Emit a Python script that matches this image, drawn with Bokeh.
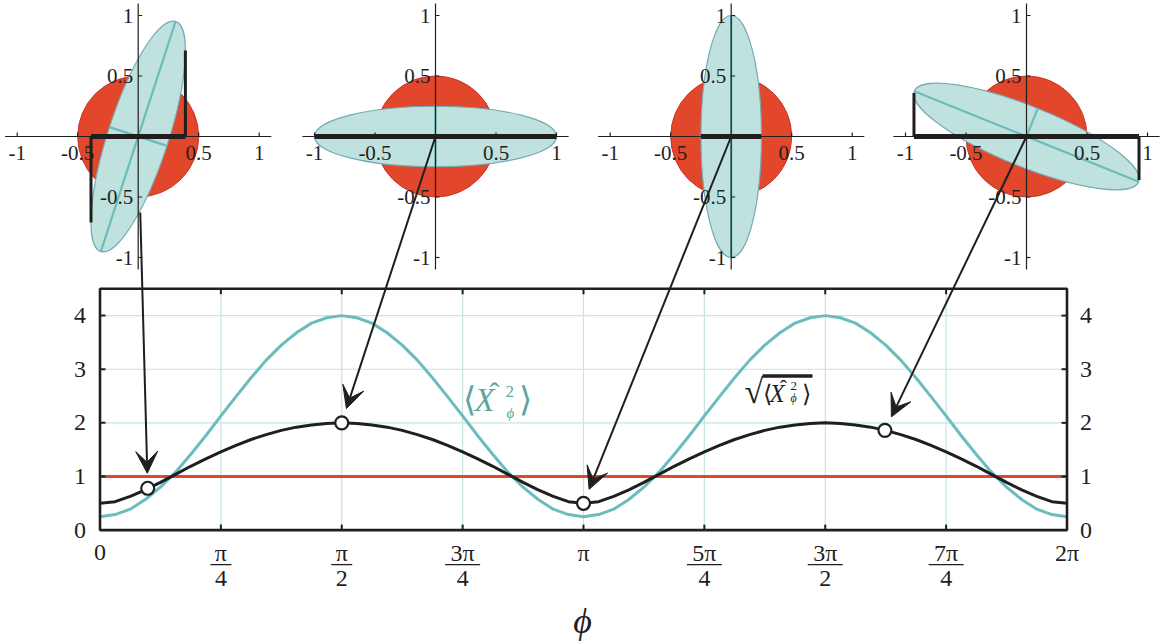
import numpy as np
from bokeh.plotting import figure
from bokeh.models import Range1d, Arrow, VeeHead
from bokeh.core.properties import value
from bokeh.embed import file_html
from bokeh.resources import INLINE

# ---------------- data ----------------
phi_deg = [0, 5.625, 11.25, 16.875, 22.5, 28.125, 33.75, 39.375, 45, 50.625, 56.25,
           61.875, 67.5, 73.125, 78.75, 84.375, 90, 95.625, 101.25, 106.875, 112.5,
           118.125, 123.75, 129.375, 135, 140.625, 146.25, 151.875, 157.5, 163.125,
           168.75, 174.375, 180, 185.625, 191.25, 196.875, 202.5, 208.125, 213.75,
           219.375, 225, 230.625, 236.25, 241.875, 247.5, 253.125, 258.75, 264.375,
           270, 275.625, 281.25, 286.875, 292.5, 298.125, 303.75, 309.375, 315,
           320.625, 326.25, 331.875, 337.5, 343.125, 348.75, 354.375, 360]

# quadrature variance <X_phi^2>
variance = [0.25, 0.29, 0.39, 0.57, 0.80, 1.08, 1.41, 1.76, 2.13, 2.49, 2.84, 3.17,
            3.45, 3.68, 3.86, 3.96, 4.00, 3.96, 3.86, 3.68, 3.45, 3.17, 2.84, 2.49,
            2.13, 1.76, 1.41, 1.08, 0.80, 0.57, 0.39, 0.29, 0.25, 0.29, 0.39, 0.57,
            0.80, 1.08, 1.41, 1.76, 2.13, 2.49, 2.84, 3.17, 3.45, 3.68, 3.86, 3.96,
            4.00, 3.96, 3.86, 3.68, 3.45, 3.17, 2.84, 2.49, 2.13, 1.76, 1.41, 1.08,
            0.80, 0.57, 0.39, 0.29, 0.25]

# its square root
std_dev = [0.50, 0.53, 0.63, 0.75, 0.89, 1.04, 1.19, 1.33, 1.46, 1.58, 1.69, 1.78,
           1.86, 1.92, 1.96, 1.99, 2.00, 1.99, 1.96, 1.92, 1.86, 1.78, 1.69, 1.58,
           1.46, 1.33, 1.19, 1.04, 0.89, 0.75, 0.63, 0.53, 0.50, 0.53, 0.63, 0.75,
           0.89, 1.04, 1.19, 1.33, 1.46, 1.58, 1.69, 1.78, 1.86, 1.92, 1.96, 1.99,
           2.00, 1.99, 1.96, 1.92, 1.86, 1.78, 1.69, 1.58, 1.46, 1.33, 1.19, 1.04,
           0.89, 0.75, 0.63, 0.53, 0.50]

vacuum_level = 1.0

# highlighted phases and the value of the square-root curve there
marker_phi = [0.31, np.pi / 2, np.pi, 5.10]
marker_val = [0.78, 2.00, 0.50, 1.86]

x_tick_vals = [0, np.pi / 4, np.pi / 2, 3 * np.pi / 4, np.pi,
               5 * np.pi / 4, 3 * np.pi / 2, 7 * np.pi / 4, 2 * np.pi]
x_tick_num = ["0", "π", "π", "3π", "π", "5π", "3π", "7π", "2π"]
x_tick_den = ["", "4", "2", "4", "", "4", "2", "4", ""]
y_tick_vals = [0, 1, 2, 3, 4]
y_tick_text = ["0", "1", "2", "3", "4"]

# phase-space pictures: vacuum disc, squeezed ellipse, projection bar
ellipse_angle_deg = [72, 0, 90, -22]
semi_major = 1.0
semi_minor = 0.25
minor_axis_from = [-0.25, -0.25, -0.25, 0.0]
vacuum_radius = 0.5
bar_half = [0.39, 1.00, 0.25, 0.93]
tangent_y = [0.71, 0.00, 0.00, -0.36]
inset_tick_vals = [-1, -0.5, 0.5, 1]
inset_tick_text = ["-1", "-0.5", "0.5", "1"]

# ---------------- layout (pixels) ----------------
W, H = 1162, 641
PL, PR, PT, PB = 99.5, 1066.5, 288.3, 529.6
X_MAX, Y_MAX = 2 * np.pi, 4.5
KX = (PR - PL) / X_MAX
KY = (PB - PT) / Y_MAX
INSET_CX = [137.7, 435.0, 730.7, 1026.0]
INSET_CY = 136.0
INSET_K = 121.0
INSET_LIM = 1.1
ARROW_HIDDEN = [76, 0, 0, 0]

INK = "#1f1f1f"
TEAL = "#6dbcbc"
TEAL_TXT = "#5aa6a3"
RED = "#e2462b"
RED_EDGE = "#c8362a"
GRID = "#c6e4e3"
ELL_FILL = "#bfe2de"
ELL_EDGE = "#78a9b6"
FONT = value("Liberation Serif")


def dx(px):
    return px / KX


def dy(px):
    return px / KY


def at(px, py):
    return (px - PL) / KX, (PB - py) / KY


def to_px(x, y):
    return PL + x * KX, PB - y * KY


p = figure(width=W, height=H,
           x_range=Range1d(-PL / KX, X_MAX + (W - PR) / KX),
           y_range=Range1d(-(H - PB) / KY, PB / KY),
           x_axis_location=None, y_axis_location=None,
           toolbar_location=None, min_border=0, output_backend="svg",
           outline_line_color=None, background_fill_color="white",
           border_fill_color="white")
p.grid.visible = False

phi = list(np.radians(phi_deg))

# ---- main panel: grid ----
gx = x_tick_vals[1:-1]
gy = y_tick_vals[1:]
p.segment(x0=gx, y0=[0] * len(gx), x1=gx, y1=[Y_MAX] * len(gx), line_color=GRID, line_width=1.2)
p.segment(x0=[0] * len(gy), y0=gy, x1=[X_MAX] * len(gy), y1=gy, line_color=GRID, line_width=1.2)

# ---- curves ----
p.line([phi[0], phi[-1]], [vacuum_level, vacuum_level], line_color=RED, line_width=3)
p.line(phi, variance, line_color=TEAL, line_width=3, line_join="round")
p.line(phi, std_dev, line_color=INK, line_width=3, line_join="round")

# ---- frame and ticks ----
t5x, t5y = dx(5.5), dy(5.5)
p.segment(x0=gx, y0=[0] * len(gx), x1=gx, y1=[t5y] * len(gx), line_color=INK, line_width=2)
p.segment(x0=gx, y0=[Y_MAX] * len(gx), x1=gx, y1=[Y_MAX - t5y] * len(gx), line_color=INK, line_width=2)
p.segment(x0=[0] * len(gy), y0=gy, x1=[t5x] * len(gy), y1=gy, line_color=INK, line_width=2)
p.segment(x0=[X_MAX] * len(gy), y0=gy, x1=[X_MAX - t5x] * len(gy), y1=gy, line_color=INK, line_width=2)
p.quad(left=[0], right=[X_MAX], bottom=[0], top=[Y_MAX], fill_color=None,
       line_color=INK, line_width=2.6)

p.scatter(marker_phi, marker_val, size=13, fill_color="white", line_color=INK, line_width=2.2)

# ---- tick labels ----
tick_style = dict(text_font=FONT, text_font_size="24px", text_color=INK)
p.text(x=[-dx(14)] * len(y_tick_vals), y=y_tick_vals, text=y_tick_text,
       text_align="right", text_baseline="middle", **tick_style)
p.text(x=[X_MAX + dx(13)] * len(y_tick_vals), y=y_tick_vals, text=y_tick_text,
       text_align="left", text_baseline="middle", **tick_style)

single = [i for i, d in enumerate(x_tick_den) if d == ""]
frac = [i for i, d in enumerate(x_tick_den) if d != ""]
p.text(x=[x_tick_vals[i] for i in single], y=[-dy(22.5)] * len(single),
       text=[x_tick_num[i] for i in single], text_align="center",
       text_baseline="middle", **tick_style)
p.text(x=[x_tick_vals[i] for i in frac], y=[-dy(22.5)] * len(frac),
       text=[x_tick_num[i] for i in frac], text_align="center",
       text_baseline="middle", **tick_style)
p.text(x=[x_tick_vals[i] for i in frac], y=[-dy(48)] * len(frac),
       text=[x_tick_den[i] for i in frac], text_align="center",
       text_baseline="middle", **tick_style)
half_bar = [dx(10.5 if len(x_tick_num[i]) == 1 else 17.5) for i in frac]
p.segment(x0=[x_tick_vals[i] - h for i, h in zip(frac, half_bar)], y0=[-dy(34.5)] * len(frac),
          x1=[x_tick_vals[i] + h for i, h in zip(frac, half_bar)], y1=[-dy(34.5)] * len(frac),
          line_color=INK, line_width=1.3)

# axis title
ax_x, ax_y = at(582, 620)
p.text(x=[ax_x], y=[ax_y], text=["ϕ"], text_align="center", text_baseline="middle",
       text_font=FONT, text_font_style="italic", text_font_size="36px", text_color=INK)

# ---- phase-space insets ----
for i in range(4):
    xr, yr = f"inset{i}_x", f"inset{i}_y"
    cx = INSET_CX[i]
    p.extra_x_ranges[xr] = Range1d(-cx / INSET_K, (W - cx) / INSET_K)
    p.extra_y_ranges[yr] = Range1d(-(H - INSET_CY) / INSET_K, INSET_CY / INSET_K)
    kw = dict(x_range_name=xr, y_range_name=yr)

    p.circle(x=[0], y=[0], radius=vacuum_radius, fill_color=RED, line_color=RED_EDGE,
             line_width=1, **kw)
    ang = np.radians(ellipse_angle_deg[i])
    p.ellipse(x=[0], y=[0], width=2 * semi_major, height=2 * semi_minor, angle=ang,
              fill_color=ELL_FILL, line_color=ELL_EDGE, line_width=1.2, **kw)
    ux, uy = np.cos(ang), np.sin(ang)
    vx, vy = -np.sin(ang), np.cos(ang)
    lo = minor_axis_from[i]
    p.segment(x0=[-semi_major * ux, lo * vx], y0=[-semi_major * uy, lo * vy],
              x1=[semi_major * ux, semi_minor * vx], y1=[semi_major * uy, semi_minor * vy],
              line_color=TEAL, line_width=2.2, **kw)

    # coordinate axes
    L = INSET_LIM
    p.segment(x0=[-L, 0], y0=[0, -L], x1=[L, 0], y1=[0, L], line_color=INK,
              line_width=1.2, **kw)
    tk = 4.0 / INSET_K
    n = len(inset_tick_vals)
    p.segment(x0=inset_tick_vals, y0=[0] * n, x1=inset_tick_vals, y1=[tk] * n,
              line_color=INK, line_width=1.2, **kw)
    p.segment(x0=[0] * n, y0=inset_tick_vals, x1=[tk] * n, y1=inset_tick_vals,
              line_color=INK, line_width=1.2, **kw)
    lab = dict(text_font=FONT, text_font_size="21px", text_color=INK, **kw)
    p.text(x=inset_tick_vals, y=[-16.0 / INSET_K] * n, text=inset_tick_text,
           text_align="center", text_baseline="middle", **lab)
    p.text(x=[-5.0 / INSET_K] * n, y=inset_tick_vals, text=inset_tick_text,
           text_align="right", text_baseline="middle", **lab)

    # projection of the ellipse onto the x quadrature
    hw, ty = bar_half[i], tangent_y[i]
    p.segment(x0=[-hw], y0=[0], x1=[hw], y1=[0], line_color=INK, line_width=5, **kw)
    if ty != 0:
        p.segment(x0=[hw, -hw], y0=[0, 0], x1=[hw, -hw], y1=[ty, -ty],
                  line_color=INK, line_width=3, **kw)

# ---- arrows from each picture to its phase ----
for i in range(4):
    sx, sy = INSET_CX[i], INSET_CY
    ex, ey = to_px(marker_phi[i], marker_val[i])
    d = np.hypot(ex - sx, ey - sy)
    ux, uy = (ex - sx) / d, (ey - sy) / d
    x0, y0 = at(sx + ARROW_HIDDEN[i] * ux, sy + ARROW_HIDDEN[i] * uy)
    x1, y1 = at(ex - 15 * ux, ey - 15 * uy)
    p.add_layout(Arrow(x_start=x0, y_start=y0, x_end=x1, y_end=y1,
                       line_color=INK, line_width=2,
                       end=VeeHead(size=22, fill_color=INK, line_color=INK, line_width=1)))


# ---- curve labels ----
def piece(txt, px, py, size, color, italic=False, align="left"):
    x, y = at(px, py)
    p.text(x=[x], y=[y], text=[txt], text_align=align, text_baseline="middle",
           text_font=FONT, text_font_size=f"{size}px", text_color=color,
           text_font_style="italic" if italic else "normal")


piece("⟨", 462, 399, 34, TEAL_TXT)
piece("X", 474, 399, 33, TEAL_TXT, italic=True)
piece("ˆ", 494, 392, 30, TEAL_TXT, align="center")
piece("2", 505, 391, 17, TEAL_TXT)
piece("ϕ", 506, 412, 15, TEAL_TXT, italic=True)
piece("⟩", 518, 399, 34, TEAL_TXT)

piece("√", 744, 391, 34, INK)
bx0, by0 = at(762, 375.5)
bx1, by1 = at(812, 375.5)
p.segment(x0=[bx0], y0=[by0], x1=[bx1], y1=[by1], line_color=INK, line_width=3.5)
piece("⟨", 762, 393, 24, INK)
piece("X", 769, 393, 25, INK, italic=True)
piece("ˆ", 783, 387, 22, INK, align="center")
piece("2", 790, 385, 13, INK)
piece("ϕ", 790, 397, 12, INK, italic=True)
piece("⟩", 801, 393, 24, INK)

open("out.html", "w").write(file_html(p, INLINE))
